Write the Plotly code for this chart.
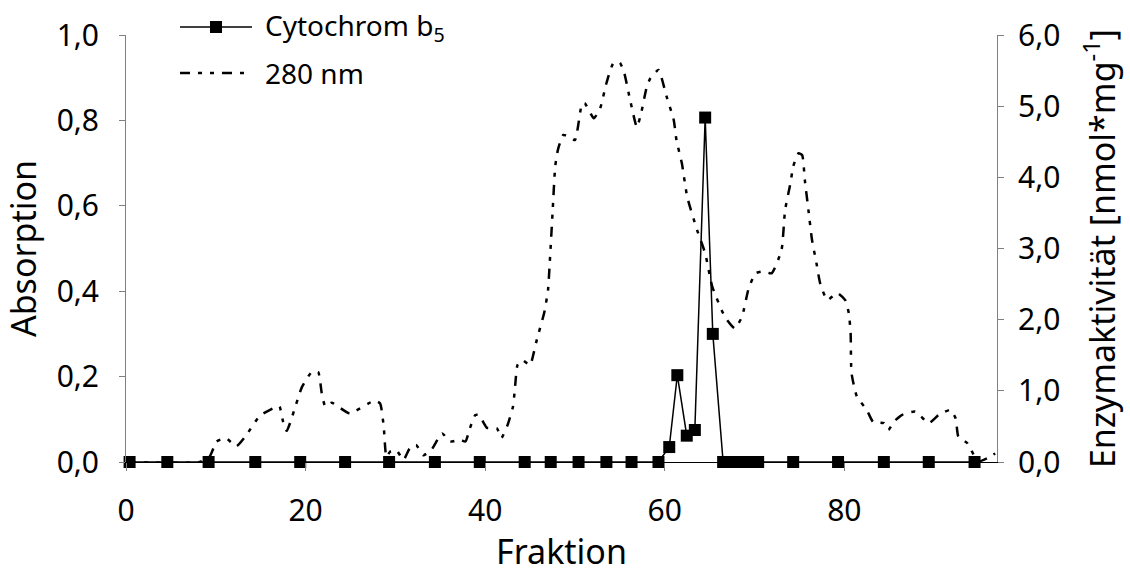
import plotly.graph_objects as go

# Cytochrom b5 activity (right axis, nmol*mg-1)
cyt_fraction = [0.4, 4.6, 9.2, 14.4, 19.4, 24.4, 29.3, 34.4, 39.4, 44.4, 47.3,
                50.4, 53.5, 56.3, 59.3, 60.5, 61.4, 62.45, 63.35, 64.5, 65.35,
                66.5, 67.5, 68.5, 69.5, 70.4, 74.3, 79.3, 84.4, 89.4, 94.5]
cyt_activity = [0, 0, 0, 0, 0, 0, 0, 0, 0, 0, 0,
                0, 0, 0, 0, 0.21, 1.22, 0.37, 0.45, 4.84, 1.80,
                0, 0, 0, 0, 0, 0, 0, 0, 0, 0]

# Absorption at 280 nm (left axis)
a280_fraction = [0, 8.2, 9.3, 10.1, 11.1, 12.3, 13.4, 14.9, 16.8, 17.1, 17.5, 17.9,
                 19.6, 20.7, 21.4, 21.8, 22.2, 22.9, 24.9, 27.7, 28.3, 28.7, 29.0,
                 29.4, 30.1, 30.9, 31.6, 32.3, 33.1, 34.0, 35.2, 36.1, 37.2, 37.8,
                 38.3, 38.9, 39.3, 40.2, 41.3, 41.8, 42.5, 43.1, 43.3, 43.6, 44.1,
                 45.0, 45.4, 45.7, 46.6, 47.0, 47.2, 47.5, 47.8, 48.1, 48.7, 49.3,
                 50.0, 50.8, 51.1, 52.1, 52.8, 53.5, 54.3, 55.0, 55.5, 56.1, 56.9,
                 57.4, 58.0, 58.4, 59.3, 60.2, 61.0, 61.3, 61.9, 62.5, 63.6, 64.5,
                 65.3, 66.7, 67.8, 68.6, 69.3, 70.1, 71.0, 71.9, 73.0, 73.4, 74.0,
                 74.3, 74.9, 75.3, 75.6, 76.0, 76.4, 76.9, 77.3, 78.1, 79.2, 80.1,
                 80.5, 80.7, 80.8, 81.4, 82.5, 83.2, 84.4, 84.9, 85.5, 86.4, 87.9,
                 89.4, 90.5, 91.8, 92.4, 92.7, 93.7, 94.6, 94.9, 95.9, 96.8]
a280_absorption = [0, 0, 0.012, 0.048, 0.056, 0.037, 0.063, 0.108, 0.130, 0.130, 0.094, 0.073,
                   0.176, 0.211, 0.211, 0.161, 0.130, 0.139, 0.114, 0.144, 0.137, 0.083, 0.012,
                   0.024, 0.028, 0.005, 0.032, 0.040, 0.016, 0.028, 0.067, 0.048, 0.052, 0.048,
                   0.079, 0.110, 0.110, 0.080, 0.079, 0.056, 0.087, 0.130, 0.169, 0.227, 0.239,
                   0.227, 0.255, 0.282, 0.352, 0.403, 0.470, 0.582, 0.692, 0.731, 0.766, 0.762,
                   0.754, 0.840, 0.840, 0.805, 0.828, 0.887, 0.935, 0.935, 0.910, 0.852, 0.784,
                   0.820, 0.879, 0.899, 0.918, 0.856, 0.801, 0.754, 0.700, 0.621, 0.543, 0.489,
                   0.410, 0.340, 0.313, 0.340, 0.403, 0.442, 0.446, 0.442, 0.496, 0.590, 0.653,
                   0.692, 0.723, 0.719, 0.660, 0.590, 0.520, 0.465, 0.419, 0.379, 0.396, 0.379,
                   0.348, 0.301, 0.208, 0.153, 0.122, 0.094, 0.091, 0.075, 0.094, 0.110, 0.118,
                   0.091, 0.110, 0.122, 0.102, 0.059, 0.044, 0.009, 0.001, 0.009, 0.020]

FONT = "Noto Sans"
GREY = "#808080"
DASH_280 = "10px,8px,4px,8px,4px,8px"

# plot area in pixels: x 126..997, y 35..462
L, R, T, B = 126, 997, 35, 462


def px(x):
    return (x - L) / (R - L)


def py(y):
    return (B - y) / (B - T)


fig = go.Figure()
fig.add_trace(go.Scatter(
    x=a280_fraction, y=a280_absorption,
    mode="lines", name="280 nm",
    line=dict(color="black", width=2.5, dash=DASH_280,
              shape="spline", smoothing=0.5),
))
fig.add_trace(go.Scatter(
    x=cyt_fraction, y=cyt_activity, yaxis="y2",
    mode="lines+markers", name="Cytochrom b<sub>5</sub>",
    line=dict(color="black", width=1.5),
    marker=dict(symbol="square", size=12, color="black"),
    cliponaxis=False,
))

# legend drawn by hand so it can sit above the plot without pushing margins
legend_rows = [("Cytochrom b<sub>5</sub>", 27, dict(color="black", width=1.5)),
               ("280 nm", 73, dict(color="black", width=2.5, dash=DASH_280))]
for label, ypix, line in legend_rows:
    fig.add_shape(type="line", xref="paper", yref="paper",
                  x0=px(180), x1=px(252), y0=py(ypix), y1=py(ypix), line=line)
    fig.add_annotation(text=label, xref="paper", yref="paper",
                       x=px(263), y=py(ypix), xanchor="left", yanchor="middle",
                       showarrow=False, font=dict(size=28))
fig.add_shape(type="rect", xref="paper", yref="paper",
              x0=px(210), x1=px(222), y0=py(33), y1=py(21),
              fillcolor="black", line=dict(width=0))

axis_common = dict(showgrid=False, zeroline=False, automargin=False,
                   ticks="outside", tickcolor=GREY, tickfont=dict(size=30))

fig.update_layout(
    width=1130, height=574,
    paper_bgcolor="white", plot_bgcolor="white",
    margin=dict(l=L, r=1130 - R, t=T, b=574 - B),
    font=dict(family=FONT, size=28, color="black"),
    separators=", ",
    showlegend=False,
    xaxis=dict(
        range=[0, 97], tickvals=[0, 20, 40, 60, 80],
        showline=True, linecolor="black", linewidth=1,
        ticklen=8, ticklabelstandoff=14,
        title=dict(text="Fraktion", standoff=11),
        **axis_common,
    ),
    yaxis=dict(
        range=[0, 1], dtick=0.2, tickformat=".1f",
        showline=True, linecolor=GREY, linewidth=1,
        ticklen=6, ticklabelstandoff=14,
        title=dict(text="Absorption", standoff=20),
        **axis_common,
    ),
    yaxis2=dict(
        range=[0, 6], dtick=1, tickformat=".1f",
        overlaying="y", side="right",
        showline=True, linecolor=GREY, linewidth=1,
        ticklen=6, ticklabelstandoff=8,
        title=dict(text="Enzymaktivität [nmol*mg<sup>-1</sup>]", standoff=31),
        **axis_common,
    ),
)

# drop the default page margin so the figure sits at the window's corner
fig.write_html("out.html", config={"displayModeBar": False},
               post_script="document.body.style.margin='0';")
